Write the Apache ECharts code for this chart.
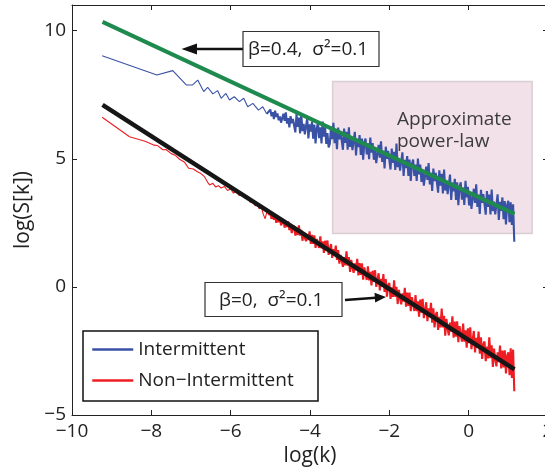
<!DOCTYPE html>
<html>
<head>
<meta charset="utf-8">
<script src="https://cdn.jsdelivr.net/npm/echarts@6/dist/echarts.min.js"></script>
<style>
html,body{margin:0;padding:0;background:#fff;}
#chart{width:545px;height:472px;}
</style>
</head>
<body>
<div id="chart"></div>
<script>
// ---------- data ----------
const xTicks = [-10, -8, -6, -4, -2, 0, 2];
const yTicks = [-5, 0, 5, 10];

// Intermittent (blue), low-k sparse part
const blueSparseX = [-9.24, -7.86, -7.46, -7.12, -6.96, -6.83, -6.68, -6.58, -6.45, -6.33, -6.24, -6.12, -6.03, -5.91, -5.78, -5.67, -5.57, -5.44, -5.30, -5.19, -5.09];
const blueSparseY = [9.02, 8.27, 8.44, 7.88, 7.88, 8.07, 7.62, 7.79, 7.53, 7.66, 7.36, 7.55, 7.29, 7.42, 7.23, 7.36, 7.03, 7.16, 6.90, 7.03, 6.75];

// Non-Intermittent (red), low-k sparse part
const redSparseX = [-9.24, -8.55, -8.14, -7.93, -7.85, -7.71, -7.63, -7.50, -7.40, -7.29, -7.16, -7.06, -6.94, -6.85, -6.75, -6.66, -6.58, -6.53, -6.45, -6.38, -6.31, -6.24, -6.16, -6.08, -6.00, -5.93, -5.86, -5.78, -5.72, -5.65, -5.58, -5.51, -5.45, -5.38, -5.33, -5.28, -5.23, -5.18, -5.13, -5.08, -5.04];
const redSparseY = [6.62, 5.86, 5.67, 5.53, 5.52, 5.35, 5.36, 5.20, 5.14, 4.98, 4.86, 4.63, 4.60, 4.50, 4.42, 4.30, 4.08, 3.98, 4.04, 3.90, 3.95, 3.86, 3.92, 3.76, 3.82, 3.66, 3.72, 3.56, 3.62, 3.48, 3.52, 3.30, 3.38, 3.16, 3.24, 3.04, 3.16, 2.84, 2.66, 2.98, 2.80];

// dense high-k part (shared log(k) positions)
const xDense = [
-5.00,-4.97,-4.94,-4.91,-4.88,-4.85,-4.82,-4.79,-4.76,-4.73,
-4.70,-4.67,-4.64,-4.61,-4.58,-4.55,-4.52,-4.49,-4.46,-4.43,
-4.40,-4.37,-4.34,-4.31,-4.28,-4.25,-4.22,-4.19,-4.16,-4.13,
-4.10,-4.07,-4.04,-4.01,-3.98,-3.95,-3.92,-3.89,-3.86,-3.83,
-3.80,-3.77,-3.74,-3.71,-3.68,-3.65,-3.62,-3.59,-3.56,-3.53,
-3.50,-3.47,-3.44,-3.41,-3.38,-3.35,-3.32,-3.29,-3.26,-3.23,
-3.20,-3.17,-3.14,-3.11,-3.08,-3.05,-3.02,-2.99,-2.96,-2.93,
-2.90,-2.87,-2.84,-2.81,-2.78,-2.75,-2.72,-2.69,-2.66,-2.63,
-2.60,-2.57,-2.54,-2.51,-2.48,-2.45,-2.42,-2.39,-2.36,-2.33,
-2.30,-2.27,-2.24,-2.21,-2.18,-2.15,-2.12,-2.09,-2.06,-2.03,
-2.00,-1.97,-1.94,-1.91,-1.88,-1.85,-1.82,-1.79,-1.76,-1.73,
-1.70,-1.67,-1.64,-1.61,-1.58,-1.55,-1.52,-1.49,-1.46,-1.43,
-1.40,-1.37,-1.34,-1.31,-1.28,-1.25,-1.22,-1.19,-1.16,-1.13,
-1.10,-1.07,-1.04,-1.01,-0.98,-0.95,-0.92,-0.89,-0.86,-0.83,
-0.80,-0.77,-0.74,-0.71,-0.68,-0.65,-0.62,-0.59,-0.56,-0.53,
-0.50,-0.47,-0.44,-0.41,-0.38,-0.35,-0.32,-0.29,-0.26,-0.23,
-0.20,-0.17,-0.14,-0.11,-0.08,-0.05,-0.02,0.01,0.04,0.07,
0.10,0.13,0.16,0.19,0.22,0.25,0.28,0.31,0.34,0.37,
0.40,0.43,0.46,0.49,0.52,0.55,0.58,0.61,0.64,0.67,
0.70,0.73,0.76,0.79,0.82,0.85,0.88,0.91,0.94,0.97,
1.00,1.03,1.06,1.09,1.12,1.15];

const blueDense = [
6.92,6.66,6.82,6.55,6.88,6.63,6.77,6.50,6.65,6.41,
6.42,6.76,6.48,6.81,6.37,6.59,6.22,6.66,6.39,6.55,
6.62,6.03,6.74,6.24,6.61,5.99,6.75,6.08,6.36,5.95,
6.02,6.59,5.79,6.34,6.06,6.45,5.78,6.33,5.60,6.18,
6.42,5.80,6.23,5.60,6.45,5.86,6.23,5.58,6.00,5.44,
5.59,6.25,5.76,6.40,5.61,6.04,5.37,6.22,5.76,6.07,
6.03,5.35,6.18,5.62,6.05,5.35,6.23,5.46,5.80,5.34,
5.38,6.05,5.13,5.77,5.45,5.92,5.15,5.79,4.96,5.63,
5.79,5.17,5.60,4.98,5.83,5.24,5.61,4.96,5.39,4.83,
4.88,5.54,5.04,5.68,4.88,5.31,4.62,5.47,5.00,5.31,
5.26,4.58,5.40,4.84,5.27,4.56,5.59,4.67,5.01,4.54,
4.58,5.25,4.33,4.96,4.64,5.10,4.33,4.97,4.13,4.80,
4.97,4.33,4.77,4.13,5.01,4.39,4.77,4.10,4.54,3.95,
4.01,4.69,4.17,4.83,4.00,4.45,3.74,4.62,4.13,4.45,
4.40,3.68,4.55,3.95,4.41,3.65,4.58,3.76,4.13,3.62,
3.66,4.38,3.39,4.07,3.73,4.22,3.39,4.08,3.19,3.90,
4.08,3.40,3.88,3.20,4.14,3.49,3.90,3.18,3.66,3.04,
3.11,3.83,3.28,4.00,3.12,3.60,2.85,3.79,3.28,3.62,
3.57,2.82,3.74,3.12,3.60,2.83,3.80,2.96,3.33,2.83,
2.87,3.61,2.61,3.32,2.97,3.49,2.64,3.35,2.44,3.19,
3.36,2.52,3.30,2.42,3.22,1.76];

const redDense = [
2.90,2.66,2.89,2.62,2.76,2.50,2.74,2.52,2.72,2.40,
2.42,2.64,2.31,2.50,2.34,2.56,2.22,2.43,2.10,2.30,
2.38,2.00,2.25,2.02,2.40,2.00,2.22,1.80,2.12,1.91,
1.78,2.05,1.83,2.17,1.68,2.03,1.68,2.01,1.52,1.87,
1.94,1.52,1.97,1.50,1.78,1.33,1.80,1.42,1.81,1.25,
1.28,1.67,1.13,1.47,1.22,1.61,1.05,1.44,0.91,1.25,
1.32,0.78,1.16,0.84,1.39,0.83,1.16,0.58,1.05,0.76,
0.55,0.92,0.64,1.09,0.45,0.93,0.47,0.92,0.28,0.76,
0.76,0.27,0.80,0.25,0.59,0.06,0.63,0.19,0.65,0.00,
0.03,0.53,-0.14,0.31,0.00,0.50,-0.20,0.30,-0.38,0.07,
0.15,-0.47,-0.02,-0.39,0.26,-0.39,0.00,-0.67,-0.12,-0.45,
-0.68,-0.25,-0.57,-0.04,-0.77,-0.22,-0.74,-0.22,-0.95,-0.40,
-0.38,-0.94,-0.32,-0.95,-0.56,-1.16,-0.50,-1.01,-0.47,-1.22,
-1.16,-0.60,-1.34,-0.84,-1.18,-0.62,-1.40,-0.84,-1.58,-1.08,
-0.98,-1.68,-1.17,-1.58,-0.85,-1.58,-1.13,-1.90,-1.25,-1.64,
-1.89,-1.39,-1.75,-1.15,-1.98,-1.35,-1.94,-1.34,-2.16,-1.53,
-1.51,-2.14,-1.43,-2.14,-1.70,-2.37,-1.62,-2.20,-1.58,-2.43,
-2.36,-1.72,-2.56,-1.99,-2.38,-1.74,-2.61,-1.97,-2.81,-2.24,
-2.13,-2.90,-2.33,-2.79,-1.97,-2.78,-2.28,-3.12,-2.41,-2.83,
-3.10,-2.55,-2.94,-2.29,-3.18,-2.49,-3.14,-2.48,-3.38,-2.69,
-2.55,-3.45,-2.40,-3.55,-2.45,-4.07];

// fitted power laws
const fitX = [-9.23, 1.155];
const greenFitY = [10.34, 2.85];   // beta=0.4, sigma^2=0.1
const blackFitY = [7.10, -3.22];   // beta=0,   sigma^2=0.1

// shaded "approximate power-law" region (data coords)
const regionX = [-3.43, 1.60];
const regionY = [2.08, 8.01];

const seriesNames = ['Intermittent', 'Non\u2212Intermittent'];

// ---------- build ----------
function pairs(xs, ys) {
  const out = [];
  const n = Math.min(xs.length, ys.length);
  for (let i = 0; i < n; i++) out.push([xs[i], ys[i]]);
  return out;
}
const blueSparse = pairs(blueSparseX, blueSparseY);
const redSparse = pairs(redSparseX, redSparseY);
// dense parts start from the last sparse sample so the traces stay connected
const blueDenseData = [blueSparse[blueSparse.length - 1]].concat(pairs(xDense, blueDense));
const redDenseData = [redSparse[redSparse.length - 1]].concat(pairs(xDense, redDense));

const FONT = '"Open Sans", "Noto Sans", sans-serif';
const AX = '#222';
const BLUE = '#3a52a6';
const RED = '#ee1d23';
const minus = v => (v < 0 ? '\u2212' + Math.abs(v) : String(v));

const chart = echarts.init(document.getElementById('chart'), null, {renderer: 'canvas'});

function trace(name, data, color, width) {
  return {
    name: name, type: 'line', data: data, z: 3,
    symbol: 'none', showSymbol: false, color: color,
    lineStyle: {color: color, width: width}, silent: true
  };
}

const option = {
  animation: false,
  backgroundColor: '#fff',
  textStyle: {fontFamily: FONT},
  grid: {left: 72, top: 5, width: 476, height: 410, containLabel: false, outerBoundsMode: 'none'},
  xAxis: [{
    type: 'value', min: xTicks[0], max: xTicks[xTicks.length - 1], interval: 2,
    position: 'bottom',
    name: 'log(k)', nameLocation: 'middle', nameGap: 30,
    nameTextStyle: {fontSize: 21, color: AX, fontFamily: FONT},
    axisLine: {show: true, onZero: false, lineStyle: {color: AX, width: 1}},
    axisTick: {show: true, inside: true, length: 5, lineStyle: {color: AX}, customValues: xTicks},
    axisLabel: {fontSize: 19, color: AX, margin: 7, formatter: minus, customValues: xTicks, fontFamily: FONT},
    splitLine: {show: false}
  }, {
    type: 'value', min: xTicks[0], max: xTicks[xTicks.length - 1], interval: 2,
    position: 'top',
    axisLine: {show: true, onZero: false, lineStyle: {color: AX, width: 1}},
    axisTick: {show: true, inside: true, length: 5, lineStyle: {color: AX}, customValues: xTicks},
    axisLabel: {show: false},
    splitLine: {show: false}
  }],
  yAxis: [{
    type: 'value', min: -5, max: 11, interval: 5,
    position: 'left',
    name: 'log(S[k])', nameLocation: 'middle', nameGap: 38,
    nameTextStyle: {fontSize: 21, color: AX, fontFamily: FONT},
    axisLine: {show: true, onZero: false, lineStyle: {color: AX, width: 1}},
    axisTick: {show: true, inside: true, length: 5, lineStyle: {color: AX}, customValues: yTicks},
    axisLabel: {fontSize: 19, color: AX, margin: 6, formatter: minus, customValues: yTicks, fontFamily: FONT},
    splitLine: {show: false}
  }, {
    type: 'value', min: -5, max: 11, interval: 5,
    position: 'right',
    axisLine: {show: true, onZero: false, lineStyle: {color: AX, width: 1}},
    axisTick: {show: true, inside: true, length: 5, lineStyle: {color: AX}, customValues: yTicks},
    axisLabel: {show: false},
    splitLine: {show: false}
  }],
  legend: {
    data: seriesNames,
    orient: 'vertical',
    left: 83, top: 331,
    padding: [9, 12, 9, 8],
    itemWidth: 41, itemHeight: 20, itemGap: 12,
    borderWidth: 0,
    backgroundColor: 'rgba(0,0,0,0)',
    lineStyle: {width: 2.5},
    itemStyle: {opacity: 0, borderWidth: 0},
    textStyle: {fontSize: 19, color: '#222', fontFamily: FONT},
    selectedMode: false
  },
  series: [
    {
      name: 'region', type: 'line', data: [], z: 1, silent: true,
      markArea: {
        silent: true,
        itemStyle: {color: '#f2e1e8', borderColor: '#d8cfd3', borderWidth: 1.5},
        data: [[{coord: [regionX[0], regionY[1]]}, {coord: [regionX[1], regionY[0]]}]]
      }
    },
    trace(seriesNames[0], blueSparse, BLUE, 1.1),
    trace(seriesNames[0], blueDenseData, BLUE, 2.1),
    trace(seriesNames[1], redSparse, RED, 1.1),
    trace(seriesNames[1], redDenseData, RED, 2.1),
    {
      name: 'fit04', type: 'line', data: pairs(fitX, greenFitY), z: 4,
      symbol: 'none', color: '#1f8a4e',
      lineStyle: {color: '#1f8a4e', width: 4}, silent: true
    },
    {
      name: 'fit0', type: 'line', data: pairs(fitX, blackFitY), z: 4,
      symbol: 'none', color: '#161616',
      lineStyle: {color: '#161616', width: 4.5}, silent: true
    }
  ],
  graphic: [
    // legend frame
    {type: 'rect', z: 90, shape: {x: 83, y: 331, width: 235, height: 70}, style: {fill: 'none', stroke: '#111', lineWidth: 1.5}},
    // annotation 1
    {type: 'line', z: 100, shape: {x1: 243, y1: 49, x2: 194, y2: 49}, style: {stroke: '#111', lineWidth: 2.5}},
    {type: 'polygon', z: 100, shape: {points: [[181.5, 49], [197, 43.5], [197, 54.5]]}, style: {fill: '#111'}},
    {type: 'rect', z: 100, shape: {x: 243, y: 31.5, width: 136, height: 35}, style: {fill: '#fff', stroke: '#333', lineWidth: 1.2}},
    {type: 'text', z: 101, x: 248, y: 49.5, style: {text: '\u03B2=0.4,  \u03C3\u00B2=0.1', fontSize: 19, fontFamily: FONT, fill: '#222', align: 'left', verticalAlign: 'middle'}},
    // annotation 2
    {type: 'rect', z: 100, shape: {x: 205, y: 282.5, width: 137, height: 34}, style: {fill: '#fff', stroke: '#333', lineWidth: 1.2}},
    {type: 'text', z: 101, x: 219, y: 300.5, style: {text: '\u03B2=0,  \u03C3\u00B2=0.1', fontSize: 19, fontFamily: FONT, fill: '#222', align: 'left', verticalAlign: 'middle'}},
    {type: 'line', z: 100, shape: {x1: 345, y1: 300, x2: 376, y2: 297.8}, style: {stroke: '#111', lineWidth: 2.5}},
    {type: 'polygon', z: 100, shape: {points: [[386, 297], [374.5, 292.8], [375.2, 302.6]]}, style: {fill: '#111'}},
    // region label
    {type: 'text', z: 101, x: 397, y: 119.5, style: {text: 'Approximate', fontSize: 19, fontFamily: FONT, fill: '#3c3c3c', align: 'left', verticalAlign: 'middle'}},
    {type: 'text', z: 101, x: 397, y: 142, style: {text: 'power-law', fontSize: 19, fontFamily: FONT, fill: '#3c3c3c', align: 'left', verticalAlign: 'middle'}}
  ]
};
chart.setOption(option);
</script>
</body>
</html>
